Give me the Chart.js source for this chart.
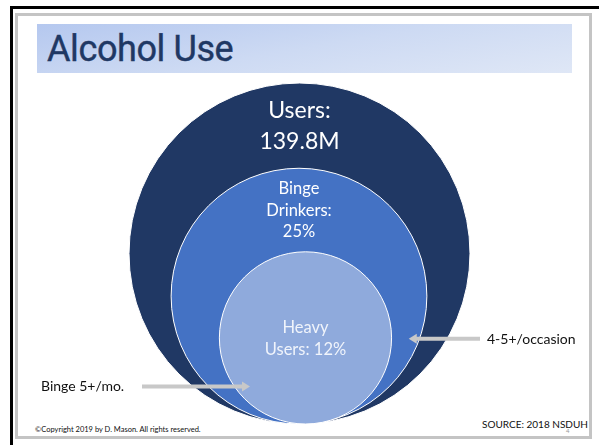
<!DOCTYPE html>
<html>
<head>
<meta charset="utf-8">
<script src="https://cdn.jsdelivr.net/npm/chart.js"></script>
<style>
  html, body { margin: 0; padding: 0; background: #fff; }
  #slide { position: relative; width: 599px; height: 445px; overflow: hidden; font-family: Lato, sans-serif; }
  .outer-frame { position: absolute; left: 10px; top: 6px; width: 620px; height: 480px; border-left: 3px solid #000; border-top: 3px solid #000; }
  .inner-frame { position: absolute; left: 15px; top: 13px; width: 571px; height: 420px; border: 3px solid #c4c4c4; }
  .title-band { position: absolute; left: 37px; top: 24px; width: 535px; height: 49px;
    background: linear-gradient(170deg, #b5c8ef 0%, #cddaf3 50%, #dfe7f6 100%); }
  .title-band h1 { margin: 0; position: absolute; left: 10px; top: 4px; font: 400 36px Roboto, sans-serif; color: #1f3864; letter-spacing: -0.4px; -webkit-text-stroke: 0.4px #1f3864; }
  .note { position: absolute; white-space: nowrap; color: #111; }
  #chart { position: absolute; left: 0; top: 0; }
</style>
</head>
<body>
<div id="slide">
  <div class="outer-frame"></div>
  <div class="inner-frame"></div>
  <div class="title-band"><h1>Alcohol Use</h1></div>
  <div class="note" style="left:35px; top:425px; font-size:7.5px;">©Copyright 2019 by D. Mason. All rights reserved.</div>
  <div class="note" style="left:482px; top:418px; font-size:10px;">SOURCE: 2018 NSDUH</div>
  <div class="note" style="left:566px; top:427px; font-size:6px; color:#999;">4</div>
  <canvas id="chart" width="599" height="445"></canvas>
</div>
<script>
// nested circles, outer to inner; sizes are radii
const ringNames = ['Users', 'Binge Drinkers', 'Heavy Users'];
const ringSizes = [100, 75, 50.5];
const ringShift = [0, -0.3, 3.5];
const ringLabels = [['Users:', '139.8M'], ['Binge', 'Drinkers:', '25%'], ['Heavy', 'Users: 12%']];
const ringColors = ['#203864', '#4472c4', '#8faadc'];
const labelColors = ['#ffffff', '#ffffff', '#f0f4fb'];
const labelFonts = [[23, 31], [16.5, 21.5], [16.5, 22]]; // size, line height

// callouts: text, tip as [ring x, ring y] in chart units
const calloutText = ['Binge 5+/mo.', '4-5+/occasion'];
const calloutTip = [[-29, 22], [64, 50]];

const rings = ringSizes.map((s, i) => ({ x: ringShift[i], y: s, size: s }));

function unitToPx(chart, v) {
  const y = chart.scales.y;
  if (!y) return 0;
  return y.getPixelForValue(0) - y.getPixelForValue(v);
}

const ringText = {
  id: 'ringText',
  afterDatasetsDraw(chart) {
    const ctx = chart.ctx;
    const xs = chart.scales.x, ys = chart.scales.y;
    ctx.save();
    ctx.textAlign = 'center';
    ringLabels.forEach((lines, i) => {
      const [fs, lh] = labelFonts[i];
      const cx = xs.getPixelForValue(ringShift[i]);
      let cy;
      if (i < ringSizes.length - 1) {
        // midway between this circle's top and the next one's top
        cy = (ys.getPixelForValue(ringSizes[i] * 2) + ys.getPixelForValue(ringSizes[i + 1] * 2)) / 2;
      } else {
        cy = ys.getPixelForValue(ringSizes[i]);
      }
      ctx.font = `400 ${fs}px Lato, sans-serif`;
      ctx.fillStyle = labelColors[i];
      const cap = fs * 0.72;
      const first = cy - (lines.length - 1) * lh / 2 + cap / 2;
      lines.forEach((t, k) => ctx.fillText(t, cx, first + k * lh));
    });

    // callout arrows
    ctx.font = '400 14px Lato, sans-serif';
    ctx.textAlign = 'left';
    const arrow = (x0, x1, y) => {
      const dir = Math.sign(x1 - x0);
      ctx.strokeStyle = '#c8c8c8';
      ctx.fillStyle = '#c8c8c8';
      ctx.lineWidth = 4;
      ctx.beginPath();
      ctx.moveTo(x0, y);
      ctx.lineTo(x1 - dir * 7, y);
      ctx.stroke();
      ctx.beginPath();
      ctx.moveTo(x1, y);
      ctx.lineTo(x1 - dir * 8, y - 5);
      ctx.lineTo(x1 - dir * 8, y + 5);
      ctx.closePath();
      ctx.fill();
    };
    let tx = xs.getPixelForValue(calloutTip[0][0]), ty = ys.getPixelForValue(calloutTip[0][1]);
    ctx.fillStyle = '#111';
    ctx.fillText(calloutText[0], 41, ty + 5);
    arrow(142, tx, ty);
    tx = xs.getPixelForValue(calloutTip[1][0]); ty = ys.getPixelForValue(calloutTip[1][1]);
    ctx.fillStyle = '#111';
    ctx.fillText(calloutText[1], 487, ty + 5);
    arrow(480, tx, ty);
    ctx.restore();
  }
};

new Chart(document.getElementById('chart'), {
  type: 'scatter',
  data: {
    labels: ringNames,
    datasets: [{
      data: rings,
      showLine: false,
      pointBackgroundColor: ringColors,
      pointBorderColor: '#ffffff',
      pointBorderWidth: 1,
      pointRadius: c => (c.raw ? unitToPx(c.chart, c.raw.size) : 0),
      clip: false
    }]
  },
  options: {
    responsive: false,
    animation: false,
    events: [],
    layout: { padding: { top: 83, bottom: 21, left: 0, right: 0 } },
    scales: {
      x: { type: 'linear', min: -175.5, max: 175.5, display: false },
      y: { type: 'linear', min: 0, max: 200, display: false }
    },
    plugins: { legend: { display: false }, tooltip: { enabled: false } }
  },
  plugins: [ringText]
});
</script>
</body>
</html>
